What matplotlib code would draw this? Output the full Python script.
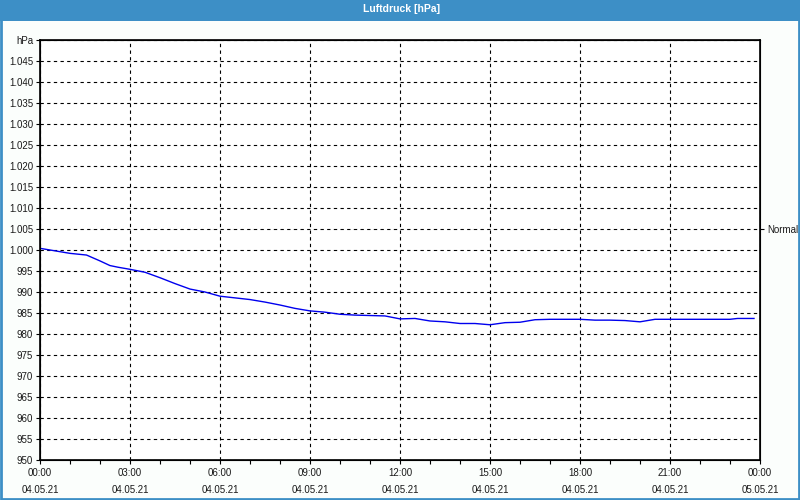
import matplotlib
matplotlib.use("Agg")
import matplotlib.pyplot as plt
from matplotlib.patches import Rectangle
from matplotlib.ticker import FixedLocator, MultipleLocator

# data: hours since 04.05.21 00:00, pressure in hPa
hours = [0.0, 0.5, 1.0, 1.55, 2.0, 2.33, 2.6, 3.0, 3.5, 4.0, 4.5, 5.0, 5.5, 6.0,
         6.5, 7.0, 7.5, 8.0, 8.5, 9.0, 9.5, 10.0, 10.5, 11.0, 11.5, 12.0,
         12.5, 13.0, 13.5, 14.0, 14.5, 15.0, 15.5, 16.0, 16.5, 17.0, 17.5,
         18.0, 18.5, 19.0, 19.5, 20.0, 20.5, 21.0, 22.0, 23.0, 23.25, 23.8]
pressure = [1000.4, 999.8, 999.2, 998.8, 997.4, 996.3, 995.9, 995.4, 994.7, 993.4,
            992.0, 990.7, 990.0, 989.0, 988.6, 988.2, 987.6, 986.9, 986.1,
            985.5, 985.2, 984.7, 984.5, 984.4, 984.3, 983.6, 983.7, 983.1,
            982.9, 982.5, 982.5, 982.2, 982.7, 982.8, 983.4, 983.5, 983.5,
            983.5, 983.3, 983.3, 983.2, 982.9, 983.5, 983.5, 983.5, 983.5,
            983.7, 983.7]

x_tick_hours = [0, 3, 6, 9, 12, 15, 18, 21, 24]
x_tick_labels = ["00:00\n04.05.21", "03:00\n04.05.21", "06:00\n04.05.21",
                 "09:00\n04.05.21", "12:00\n04.05.21", "15:00\n04.05.21",
                 "18:00\n04.05.21", "21:00\n04.05.21", "00:00\n05.05.21"]
y_ticks = list(range(950, 1051, 5))
y_tick_labels = [("hPa" if v == 1050 else (f"{v/1000:.3f}" if v >= 1000 else str(v)))
                 for v in y_ticks]
normal_value = 1005

blue = "#3d8fc6"
plt.rcParams['font.family'] = ['Liberation Sans', 'DejaVu Sans']

fig = plt.figure(figsize=(8, 5), dpi=100, facecolor="#fbfefc")
# title bar and border
fig.patches.append(Rectangle((0, 0.959), 1, 0.041, transform=fig.transFigure,
                             facecolor=blue, edgecolor="none", zorder=0))
fig.patches.append(Rectangle((0.001, 0.002), 0.998, 0.996, transform=fig.transFigure,
                             facecolor="none", edgecolor=blue, linewidth=2, zorder=5))
fig.text(0.502, 0.982, "Luftdruck [hPa]", color="white", fontsize=7.5,
         fontweight="bold", ha="center", va="center")

ax = fig.add_axes([0.05, 0.08, 0.90, 0.84])
ax.set_facecolor("white")
ax.plot(hours, pressure, color="#0000ee", linewidth=1.0)
ax.set_xlim(0, 24)
ax.set_ylim(950, 1050)
ax.xaxis.set_major_locator(FixedLocator(x_tick_hours))
ax.xaxis.set_minor_locator(MultipleLocator(1))
ax.set_xticklabels(x_tick_labels, fontsize=7, linespacing=1.85)
ax.yaxis.set_major_locator(FixedLocator(y_ticks))
ax.set_yticklabels(y_tick_labels, fontsize=7)
ax.tick_params(axis="both", which="major", length=3, width=0.8, direction="out",
               colors="black", labelcolor="#1a1a1a", pad=2)
ax.tick_params(axis="x", which="minor", length=3, width=0.8, direction="out")
ax.tick_params(axis="x", which="major", pad=3)
ax.grid(True, which="major", color="black", linestyle=(0, (3, 3)), linewidth=0.8)
for s in ax.spines.values():
    s.set_color("black")
    s.set_linewidth(1.2)

# right axis with "Normal" marker
ax2 = ax.twinx()
ax2.set_ylim(950, 1050)
ax2.set_yticks([normal_value])
ax2.set_yticklabels(["Normal"], fontsize=7)
ax2.tick_params(axis="y", length=3, width=0.8, direction="out", pad=2,
                labelcolor="#1a1a1a")

fig.savefig("out.png", dpi=100, facecolor=fig.get_facecolor())
